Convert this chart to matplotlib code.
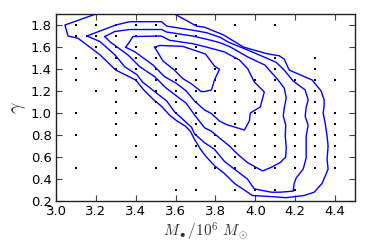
import numpy as np
import matplotlib
matplotlib.use("Agg")
import matplotlib.pyplot as plt

plt.rcParams['mathtext.fontset'] = 'cm'
plt.rcParams['font.family'] = ['DejaVu Sans']

# ---- sampled grid points (column x -> list of gamma values) ----
dot_cols = [3.1, 3.2, 3.3, 3.4, 3.5, 3.6, 3.7, 3.8, 3.9, 4.0, 4.1, 4.2, 4.3, 4.4]
dot_rows = [
    [1.9, 1.8, 1.7, 1.5, 1.4, 1.3, 1.0, 0.8, 0.5],
    [1.8, 1.7, 1.6, 1.5, 1.4, 1.2],
    [1.8, 1.7, 1.6, 1.5, 1.4, 1.3, 1.2, 1.1, 1.0, 0.9, 0.8, 0.5],
    [1.8, 1.7, 1.6, 1.5, 1.4, 1.3, 1.2, 1.0, 0.7, 0.6],
    [1.9, 1.8, 1.7, 1.6, 1.5, 1.4, 1.3, 1.2, 1.1, 1.0, 0.9, 0.8, 0.5],
    [1.7, 1.5, 1.4, 1.3, 1.2, 1.1, 1.0, 0.8, 0.7, 0.6, 0.3],
    [1.8, 1.7, 1.6, 1.5, 1.4, 1.3, 1.2, 1.1, 1.0, 0.9, 0.8, 0.7, 0.6, 0.5, 0.3],
    [1.4, 1.3, 1.2, 1.1, 1.0, 0.9, 0.8, 0.7, 0.6, 0.5],
    [1.8, 1.5, 1.4, 1.3, 1.2, 1.1, 1.0, 0.9, 0.8, 0.7, 0.6, 0.5, 0.3],
    [1.3, 1.2, 1.1, 1.0, 0.9, 0.8, 0.7, 0.6, 0.5, 0.3],
    [1.8, 1.5, 1.4, 1.3, 1.2, 1.1, 1.0, 0.9, 0.8, 0.7, 0.6, 0.5, 0.3],
    [1.3, 1.2, 1.1, 1.0, 0.9, 0.8, 0.7, 0.6, 0.5, 0.3],
    [1.5, 1.4, 1.3, 1.2, 1.1, 1.0, 0.9, 0.8, 0.7, 0.6, 0.5],
    [1.3, 1.0, 0.9, 0.8, 0.7, 0.6, 0.5],
]

# ---- confidence contours (outer -> inner) ----
c1_x = [3.20, 3.045, 3.06, 3.11, 3.22, 3.30, 3.40, 3.44, 3.49, 3.53, 3.57, 3.605, 3.65,
        3.675, 3.695, 3.725, 3.75, 3.795, 3.845, 3.895, 3.945, 3.985, 4.08, 4.155, 4.245,
        4.295, 4.335, 4.365, 4.36, 4.365, 4.36, 4.35, 4.34, 4.345, 4.345, 4.33, 4.285,
        4.17, 4.145, 4.12, 4.055, 3.94, 3.84, 3.745, 3.705, 3.595]
c1_y = [1.90, 1.80, 1.70, 1.68, 1.53, 1.39, 1.30, 1.21, 1.12, 1.06, 0.98, 0.93, 0.88,
        0.83, 0.76, 0.67, 0.61, 0.52, 0.45, 0.36, 0.30, 0.25, 0.24, 0.23, 0.25,
        0.28, 0.36, 0.49, 0.58, 0.70, 0.79, 0.91, 1.00, 1.06, 1.12, 1.20, 1.30,
        1.39, 1.49, 1.52, 1.54, 1.60, 1.71, 1.78, 1.79, 1.90]

c2_x = [3.155, 3.30, 3.37, 3.53, 3.555, 3.695, 3.755, 3.82, 3.87, 3.965, 4.055, 4.105,
        4.145, 4.19, 4.25, 4.265, 4.255, 4.25, 4.265, 4.255, 4.255, 4.255, 4.24, 4.205,
        4.195, 4.19, 4.125, 4.08, 3.995, 3.96, 3.895, 3.845, 3.795, 3.745, 3.695, 3.68,
        3.635, 3.595, 3.555, 3.505, 3.435, 3.405, 3.345, 3.295, 3.22, 3.155]
c2_y = [1.70, 1.80, 1.83, 1.83, 1.79, 1.75, 1.73, 1.69, 1.64, 1.57, 1.50, 1.46,
        1.39, 1.29, 1.21, 1.12, 1.05, 0.97, 0.89, 0.79, 0.69, 0.59, 0.49, 0.41,
        0.36, 0.29, 0.28, 0.28, 0.31, 0.40, 0.49, 0.56, 0.67, 0.73, 0.81, 0.87,
        0.945, 1.01, 1.11, 1.18, 1.28, 1.35, 1.42, 1.53, 1.65, 1.70]

c3_x = [3.245, 3.295, 3.37, 3.53, 3.555, 3.685, 3.75, 3.82, 3.875, 3.9625, 4.0475, 4.11,
        4.145, 4.155, 4.145, 4.14, 4.1525, 4.15, 4.155, 4.1525, 4.125, 4.0785, 4.0365,
        3.9615, 3.9115, 3.87, 3.8285, 3.7785, 3.745, 3.695, 3.6535, 3.5535, 3.495, 3.42,
        3.3615, 3.27, 3.245]
c3_y = [1.695, 1.741, 1.759, 1.759, 1.736, 1.70, 1.673, 1.641, 1.60, 1.509, 1.436, 1.309,
        1.227, 1.136, 1.045, 0.973, 0.891, 0.791, 0.691, 0.60, 0.55, 0.505, 0.473,
        0.548, 0.625, 0.70, 0.761, 0.836, 0.866, 0.982, 1.088, 1.225, 1.33, 1.421,
        1.527, 1.648, 1.695]

c4_x = [3.35, 3.3865, 3.5285, 3.57, 3.6865, 3.7535, 3.845, 3.92, 3.9615, 3.995, 4.045,
        4.025, 3.975, 3.97, 3.945, 3.855, 3.82, 3.7785, 3.745, 3.695, 3.6535, 3.6035,
        3.545, 3.4865, 3.395, 3.35]
c4_y = [1.597, 1.695, 1.70, 1.661, 1.63, 1.60, 1.555, 1.482, 1.403, 1.282, 1.191,
        1.055, 1.00, 0.927, 0.845, 0.895, 0.927, 0.997, 1.027, 1.109, 1.20, 1.27,
        1.33, 1.436, 1.557, 1.597]

c5_x = [3.495, 3.52, 3.635, 3.695, 3.75, 3.795, 3.82, 3.795, 3.78, 3.745, 3.7285, 3.6785,
        3.6365, 3.595, 3.5365, 3.495]
c5_y = [1.597, 1.614, 1.606, 1.57, 1.536, 1.427, 1.397, 1.30, 1.209, 1.195, 1.195, 1.266,
        1.312, 1.388, 1.473, 1.597]

x_ticks = [3.0, 3.2, 3.4, 3.6, 3.8, 4.0, 4.2, 4.4]
y_ticks = [0.2, 0.4, 0.6, 0.8, 1.0, 1.2, 1.4, 1.6, 1.8]

fig = plt.figure(figsize=(3.74, 2.49), dpi=100)
ax = fig.add_axes([56 / 374, 1 - 201 / 249, (355 - 56) / 374, (201 - 14) / 249])

dot_x = [c for c, rows in zip(dot_cols, dot_rows) for _ in rows]
dot_y = [r for rows in dot_rows for r in rows]
ax.scatter(dot_x, dot_y, s=2.5, c='k', marker='s', linewidths=0, zorder=2)

for cx, cy in [(c1_x, c1_y), (c2_x, c2_y), (c3_x, c3_y), (c4_x, c4_y), (c5_x, c5_y)]:
    ax.plot(cx, cy, color='#0000ff', lw=1.0, zorder=3)

ax.set_xlim(3.0, 4.5)
ax.set_ylim(0.2, 1.9)
ax.set_xticks(x_ticks)
ax.set_yticks(y_ticks)
ax.set_xticklabels(['%.1f' % v for v in x_ticks])
ax.set_yticklabels(['%.1f' % v for v in y_ticks])
ax.tick_params(direction='in', top=True, right=True, length=4, width=0.8,
               labelsize=9.5, pad=3, color='#444444')
for sp in ax.spines.values():
    sp.set_linewidth(1.0)
    sp.set_color('#222222')

ax.set_xlabel(r'$M_\bullet/10^6\ M_\odot$', fontsize=11, color='#333333', labelpad=2)
ax.set_ylabel(r'$\gamma$', fontsize=14, color='#333333', labelpad=2)

fig.savefig('out.png', dpi=100)
